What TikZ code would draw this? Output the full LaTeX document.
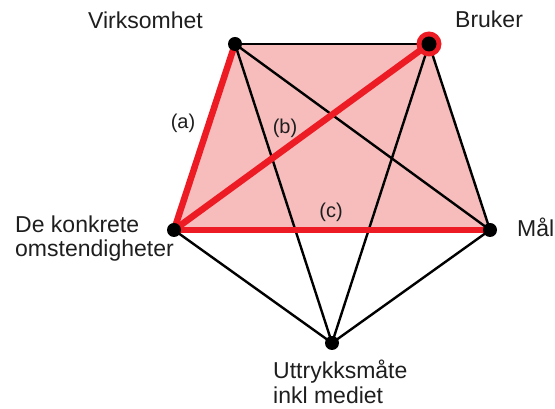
\documentclass[tikz,border=0pt]{standalone}
\usepackage{fontspec}
\setmainfont{Liberation Sans}
\definecolor{pinkfill}{RGB}{247,189,189}
\definecolor{redline}{RGB}{237,28,36}
\definecolor{txt}{RGB}{30,30,30}
\begin{document}
\begin{tikzpicture}[x=1pt,y=1pt,
  blackedge/.style={draw=black,line width=2.4pt},
  rededge/.style={draw=redline,line width=6.5pt,line cap=round},
  vertex/.style={circle,fill=black,inner sep=0pt,minimum size=14pt},
  bigtext/.style={font=\fontsize{23}{26}\selectfont,text=txt,inner sep=0pt,anchor=base west},
  smalltext/.style={font=\fontsize{20}{22}\selectfont,text=txt,inner sep=0pt}]
\useasboundingbox (0,0) rectangle (555,409);
\coordinate (V) at (235,365);
\coordinate (B) at (429,365);
\coordinate (D) at (174,179);
\coordinate (M) at (490,179);
\coordinate (U) at (332,66);
\fill[pinkfill] (V) -- (B) -- (M) -- (D) -- cycle;
\draw[blackedge] (V) -- (B);
\draw[blackedge] (V) -- (M);
\draw[blackedge] (V) -- (U);
\draw[blackedge] (B) -- (M);
\draw[blackedge] (B) -- (U);
\draw[blackedge] (D) -- (U);
\draw[blackedge] (M) -- (U);
\draw[rededge] (D) -- (V);
\draw[rededge] (D) -- (B);
\draw[rededge] (D) -- (M);
\node[circle,fill=redline,inner sep=0pt,minimum size=25pt] (Bring) at (B) {};
\node[vertex,minimum size=15pt] (Bv) at (B) {};
\node[vertex] (Vv) at (V) {};
\node[vertex] (Dv) at (D) {};
\node[vertex] (Mv) at (M) {};
\node[vertex] (Uv) at (U) {};
\node[bigtext] (lV) at (88,380) {Virksomhet};
\node[bigtext] (lB) at (455,381) {Bruker};
\node[bigtext] (lM) at (517,172) {Mål};
\node[bigtext] (lD1) at (15,176) {De konkrete};
\node[bigtext] (lD2) at (15,152) {omstendigheter};
\node[bigtext] (lU1) at (273,30) {Uttrykksmåte};
\node[bigtext] (lU2) at (273,5) {inkl mediet};
\node[smalltext] (la) at (183,286) {(a)};
\node[smalltext] (lb) at (285,281) {(b)};
\node[smalltext] (lc) at (331,197) {(c)};
\end{tikzpicture}
\end{document}
